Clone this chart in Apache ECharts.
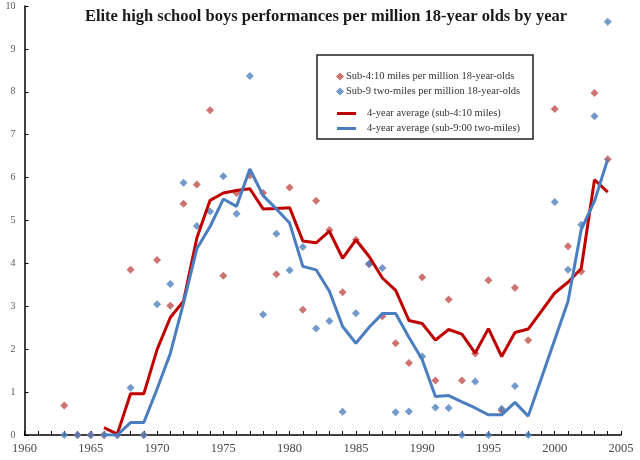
<!DOCTYPE html>
<html>
<head>
<meta charset="utf-8">
<script src="https://cdn.jsdelivr.net/npm/echarts@6/dist/echarts.min.js"></script>
<style>
  html, body { margin: 0; padding: 0; background: #fff; }
  #chart { width: 640px; height: 460px; }
</style>
</head>
<body>
<div id="chart"></div>
<script>
// yearly points (1999 has no data)
var years = [1963,1964,1965,1966,1967,1968,1969,1970,1971,1972,1973,1974,1975,1976,1977,1978,1979,1980,
  1981,1982,1983,1984,1985,1986,1987,1988,1989,1990,1991,1992,1993,1994,1995,1996,1997,1998,1999,2000,2001,2002,2003,2004];
var mile410 = [0.69,0,0,0,0,3.85,0,4.08,3.01,5.39,5.84,7.57,3.71,5.64,6.05,5.64,3.75,5.77,
  2.92,5.46,4.78,3.33,4.55,3.98,2.77,2.14,1.68,3.68,1.27,3.16,1.27,1.90,3.61,0.57,3.43,2.21,null,7.60,4.40,3.81,7.97,6.43];
var twoMile9 = [0,0,0,0,0,1.10,0,3.05,3.52,5.88,4.87,5.21,6.03,5.16,8.37,2.81,4.69,3.84,
  4.38,2.48,2.66,0.54,2.84,3.99,3.89,0.53,0.55,1.83,0.64,0.63,0,1.25,0,0.61,1.14,0,null,5.43,3.85,4.90,7.43,9.63];

// 4-year averages as drawn
var avgYears = [1966,1967,1968,1969,1970,1971,1972,1973,1974,1975,1976,1977,1978,1979,1980,1981,1982,1983,1984,1985,
  1986,1987,1988,1989,1990,1991,1992,1993,1994,1995,1996,1997,1998,1999,2000,2001,2002,2003,2004];
var avg410 = [0.17,0.02,0.96,0.96,1.99,2.74,3.12,4.59,5.47,5.64,5.70,5.74,5.27,5.28,5.30,4.52,4.48,4.75,4.12,4.55,
  4.16,3.66,3.37,2.67,2.60,2.21,2.46,2.35,1.91,2.48,1.83,2.39,2.47,2.89,3.31,3.56,3.88,5.95,5.66];
var avg9 = [0,0,0.29,0.29,1.07,1.90,3.08,4.34,4.86,5.50,5.33,6.20,5.58,5.27,4.94,3.93,3.85,3.35,2.53,2.14,
  2.51,2.83,2.83,2.28,1.76,0.90,0.92,0.77,0.63,0.47,0.47,0.76,0.44,1.33,2.22,3.11,4.79,5.45,6.43];

function pairs(xs, ys) {
  var out = [];
  for (var i = 0; i < xs.length; i++) {
    if (ys[i] !== null) out.push([xs[i], ys[i]]);
  }
  return out;
}

var serif = '"Liberation Serif", "DejaVu Serif", serif';
var chart = echarts.init(document.getElementById('chart'));

chart.setOption({
  animation: false,
  backgroundColor: '#fff',
  title: {
    text: 'Elite high school boys performances per million 18-year olds by year',
    left: 321, top: 3, textAlign: 'center',
    textStyle: { fontFamily: serif, fontSize: 16.5, fontWeight: 'bold', color: '#1a1a1a' }
  },
  grid: { left: 24.5, right: 19, top: 6, bottom: 25 },
  graphic: [{
    type: 'rect', shape: { x: 317, y: 55, width: 216, height: 84 },
    style: { fill: '#fff', stroke: '#222', lineWidth: 1.5 }, z: 5
  }],
  legend: [{
    orient: 'vertical', left: 331, top: 66, itemGap: 4,
    itemWidth: 8, itemHeight: 8,
    data: [
      { name: 'Sub-4:10 miles per million 18-year-olds', icon: 'diamond' },
      { name: 'Sub-9 two-miles per million 18-year-olds', icon: 'diamond' }
    ],
    textStyle: { fontFamily: serif, fontSize: 10.5, color: '#333', padding: [0, 0, 0, -3] },
    z: 6
  }, {
    orient: 'vertical', left: 332, top: 103, itemGap: 4,
    itemWidth: 19, itemHeight: 3,
    data: [
      { name: '4-year average (sub-4:10 miles)', icon: 'rect' },
      { name: '4-year average (sub-9:00 two-miles)', icon: 'rect' }
    ],
    textStyle: { fontFamily: serif, fontSize: 10.5, color: '#333', padding: [0, 0, 0, 6] },
    z: 6
  }],
  xAxis: {
    type: 'value', min: 1960, max: 2005, interval: 5,
    splitLine: { show: false },
    axisLine: { lineStyle: { color: '#000', width: 1.5 } },
    axisTick: { inside: true, length: 4, lineStyle: { color: '#000' } },
    minorTick: { show: true, splitNumber: 5, length: 4, lineStyle: { color: '#000' } },
    axisLabel: {
      fontFamily: serif, fontSize: 12.5, color: '#4a4a4a', margin: 7,
      formatter: function (v) { return String(v); }
    }
  },
  yAxis: {
    type: 'value', min: 0, max: 10, interval: 1,
    splitLine: { show: false },
    axisLine: { show: true, lineStyle: { color: '#000', width: 1.5 } },
    axisTick: { show: true, inside: true, length: 4, lineStyle: { color: '#000' } },
    axisLabel: { fontFamily: serif, fontSize: 10, color: '#595959', margin: 9 }
  },
  series: [{
    name: 'Sub-4:10 miles per million 18-year-olds',
    type: 'scatter', symbol: 'diamond', symbolSize: 8,
    itemStyle: { color: '#C0504D' },
    data: pairs(years, mile410)
  }, {
    name: 'Sub-9 two-miles per million 18-year-olds',
    type: 'scatter', symbol: 'diamond', symbolSize: 8,
    itemStyle: { color: '#4F81BD' },
    data: pairs(years, twoMile9)
  }, {
    name: '4-year average (sub-4:10 miles)',
    type: 'line', showSymbol: false, symbol: 'none',
    itemStyle: { color: '#C00000' },
    lineStyle: { color: '#C00000', width: 3 },
    data: pairs(avgYears, avg410)
  }, {
    name: '4-year average (sub-9:00 two-miles)',
    type: 'line', showSymbol: false, symbol: 'none',
    itemStyle: { color: '#4A7EC0' },
    lineStyle: { color: '#4A7EC0', width: 3 },
    data: pairs(avgYears, avg9)
  }]
});
</script>
</body>
</html>
